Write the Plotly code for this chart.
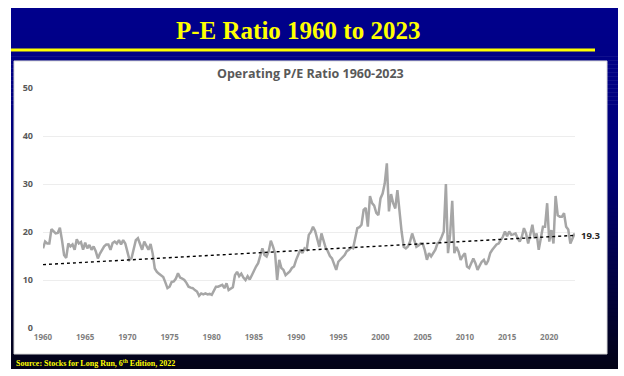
import plotly.graph_objects as go

# ---------------- data ----------------
start_year = 1960
# quarterly operating P/E ratio, 1960Q1 .. 2023Q1
pe_values = [
    16.6, 18.0, 17.6, 17.6,   # 1960
    20.6, 20.1, 19.7, 19.8,   # 1961
    20.9, 18.3, 15.2, 14.6,   # 1962
    17.6, 17.0, 17.4, 16.3,   # 1963
    18.5, 17.6, 17.9, 16.3,   # 1964
    17.8, 16.6, 17.3, 16.3,   # 1965
    17.0, 16.0, 14.5, 15.5,   # 1966
    16.3, 17.0, 17.4, 17.4,   # 1967
    16.3, 17.7, 18.0, 17.6,   # 1968
    18.3, 17.4, 18.3, 17.6,   # 1969
    15.9, 14.2, 14.6, 16.5,   # 1970
    18.3, 18.7, 17.4, 16.3,   # 1971
    18.0, 17.0, 16.3, 17.5,   # 1972
    15.5, 12.4, 11.7, 11.3,   # 1973
    11.0, 10.6, 9.5, 8.3,     # 1974
    8.6, 9.6, 9.7, 10.3,      # 1975
    11.4, 10.5, 10.3, 10.0,   # 1976
    9.4, 8.6, 8.4, 8.3,       # 1977
    7.9, 7.6, 6.7, 7.2,       # 1978
    7.0, 7.2, 7.0, 7.1,       # 1979
    6.9, 7.8, 8.6, 8.6,       # 1980
    8.8, 9.0, 8.3, 9.3,       # 1981
    7.9, 8.3, 8.5, 11.0,      # 1982
    11.7, 10.8, 11.3, 10.5,   # 1983
    10.0, 10.8, 10.1, 11.0,   # 1984
    12.1, 12.8, 13.5, 15.2,   # 1985
    16.6, 15.2, 14.9, 16.0,   # 1986
    18.2, 17.0, 15.6, 10.0,   # 1987
    14.2, 12.5, 12.1, 11.0,   # 1988
    11.4, 11.8, 12.5, 12.8,   # 1989
    14.2, 15.2, 16.3, 15.6,   # 1990
    16.6, 16.3, 19.4, 20.0,   # 1991
    21.1, 20.2, 18.8, 16.9,   # 1992
    19.7, 18.0, 16.7, 16.0,   # 1993
    15.0, 14.5, 13.2, 12.1,   # 1994
    13.8, 14.2, 14.6, 15.2,   # 1995
    16.0, 16.3, 16.8, 16.6,   # 1996
    18.7, 20.8, 21.0, 21.5,   # 1997
    24.6, 25.0, 21.1, 27.5,   # 1998
    26.0, 25.5, 24.0, 23.5,   # 1999
    27.0, 28.0, 30.1, 34.3,   # 2000
    24.3, 27.9, 26.0, 24.9,   # 2001
    28.7, 24.0, 20.1, 16.9,   # 2002
    16.6, 17.0, 18.0, 19.7,   # 2003
    18.3, 16.9, 17.2, 17.6,   # 2004
    17.6, 16.2, 14.2, 15.6,   # 2005
    14.9, 15.5, 16.3, 17.6,   # 2006
    18.0, 19.0, 20.1, 30.0,   # 2007
    15.6, 19.5, 26.5, 15.6,   # 2008
    16.9, 15.9, 14.2, 15.0,   # 2009
    15.6, 12.8, 12.5, 13.5,   # 2010
    14.5, 13.5, 12.1, 13.0,   # 2011
    13.8, 14.2, 13.2, 14.0,   # 2012
    15.6, 16.3, 16.8, 17.4,   # 2013
    17.6, 18.3, 19.0, 20.1,   # 2014
    19.1, 20.1, 19.4, 19.5,   # 2015
    19.7, 18.7, 18.0, 19.0,   # 2016
    20.8, 19.7, 17.6, 19.5,   # 2017
    21.5, 18.7, 19.7, 16.3,   # 2018
    19.0, 21.1, 21.1, 26.0,   # 2019
    18.0, 20.4, 17.6, 27.5,   # 2020
    23.5, 23.2, 23.2, 23.9,   # 2021
    21.1, 20.5, 17.6, 18.5,   # 2022
    19.7,                     # 2023
]
pe_years = [start_year + i / 4 for i in range(len(pe_values))]

trend_years = [1960, 2023]
trend_values = [13.2, 19.3]
trend_label = "19.3"

x_tick_values = [1960, 1965, 1970, 1975, 1980, 1985, 1990, 1995, 2000, 2005, 2010, 2015, 2020]
y_tick_values = [0, 10, 20, 30, 40, 50]

slide_title = "P-E Ratio 1960 to 2023"
chart_title = "Operating P/E Ratio 1960-2023"
source_text = "Source: Stocks for Long Run, 6<sup>th</sup> Edition, 2022"

# ---------------- figure ----------------
W, H = 624, 376
fig = go.Figure()

fig.add_trace(go.Scatter(
    x=pe_years, y=pe_values, mode="lines",
    line=dict(color="#A6A6A6", width=2.5), hoverinfo="skip", showlegend=False,
))
fig.add_trace(go.Scatter(
    x=trend_years, y=trend_values, mode="lines",
    line=dict(color="#000000", width=1.4, dash="dot"), hoverinfo="skip", showlegend=False,
))

def px_x(p):
    return p / W

def px_y(p):
    return 1 - p / H

shapes = []
# gradient frame (navy -> black) built from thin bands
top, bottom = 8, 369
n = 90
def grad(t):
    c0 = (0, 0, 140)
    c1 = (0, 0, 120)
    c2 = (3, 3, 22)
    if t < 0.45:
        u = t / 0.45
        a, b = c0, c1
    else:
        u = (t - 0.45) / 0.55
        a, b = c1, c2
    return "rgb(%d,%d,%d)" % tuple(round(a[i] + (b[i] - a[i]) * u) for i in range(3))

band = (bottom - top) / n
for i in range(n):
    y0 = top + i * band
    y1 = y0 + band + 0.6
    shapes.append(dict(type="rect", xref="paper", yref="paper",
                       x0=px_x(11), x1=px_x(618), y0=px_y(min(y1, bottom)), y1=px_y(y0),
                       fillcolor=grad((i + 0.5) / n), line=dict(width=0), layer="below"))
# yellow rule
shapes.append(dict(type="line", xref="paper", yref="paper",
                   x0=px_x(11), x1=px_x(595), y0=px_y(50), y1=px_y(50),
                   line=dict(color="#FFFF00", width=3), layer="below"))
# white chart panel
shapes.append(dict(type="rect", xref="paper", yref="paper",
                   x0=px_x(14), x1=px_x(607), y0=px_y(354), y1=px_y(61),
                   fillcolor="#FFFFFF", line=dict(color="#D9D9D9", width=1), layer="below"))

annotations = [
    dict(text="<b>%s</b>" % slide_title, xref="paper", yref="paper",
         x=px_x(298), y=px_y(31), xanchor="center", yanchor="middle", showarrow=False,
         font=dict(family="Liberation Serif", size=25, color="#FFFF00")),
    dict(text="<b>%s</b>" % chart_title, xref="paper", yref="paper",
         x=px_x(310), y=px_y(73), xanchor="center", yanchor="middle", showarrow=False,
         font=dict(family="Open Sans", size=12.5, color="#595959")),
    dict(text="<b>%s</b>" % source_text, xref="paper", yref="paper",
         x=px_x(14), y=px_y(363), xanchor="left", yanchor="middle", showarrow=False,
         font=dict(family="Liberation Serif", size=8, color="#FFFF00")),
    dict(text="<b>%s</b>" % trend_label, x=trend_years[-1], y=trend_values[-1],
         xref="x", yref="y", xanchor="left", yanchor="middle", showarrow=False, xshift=4,
         font=dict(family="Open Sans", size=9.5, color="#262626")),
]

fig.update_layout(
    width=W, height=H,
    margin=dict(l=0, r=0, t=0, b=0),
    paper_bgcolor="#FFFFFF", plot_bgcolor="rgba(0,0,0,0)",
    shapes=shapes, annotations=annotations, showlegend=False,
    xaxis=dict(domain=[px_x(43), px_x(575)], range=[1960, 2023.05], automargin=False,
               tickvals=x_tick_values, ticktext=[str(v) for v in x_tick_values],
               showgrid=False, zeroline=False, showline=False, ticks="",
               ticklabelstandoff=3,
               tickfont=dict(family="Open Sans", size=8, color="#7F7F7F", weight="bold")),
    yaxis=dict(domain=[px_y(328), px_y(88)], range=[0, 50], automargin=False,
               tickvals=y_tick_values, showgrid=True, gridcolor="#EDEDED", gridwidth=1,
               zeroline=False, showline=False, ticks="",
               ticklabelstandoff=9,
               tickfont=dict(family="Open Sans", size=9, color="#595959", weight="bold")),
)

fig.write_html(
    "out.html",
    config={"displayModeBar": False},
    post_script="document.body.style.margin='0';document.body.style.overflow='hidden';",
)
